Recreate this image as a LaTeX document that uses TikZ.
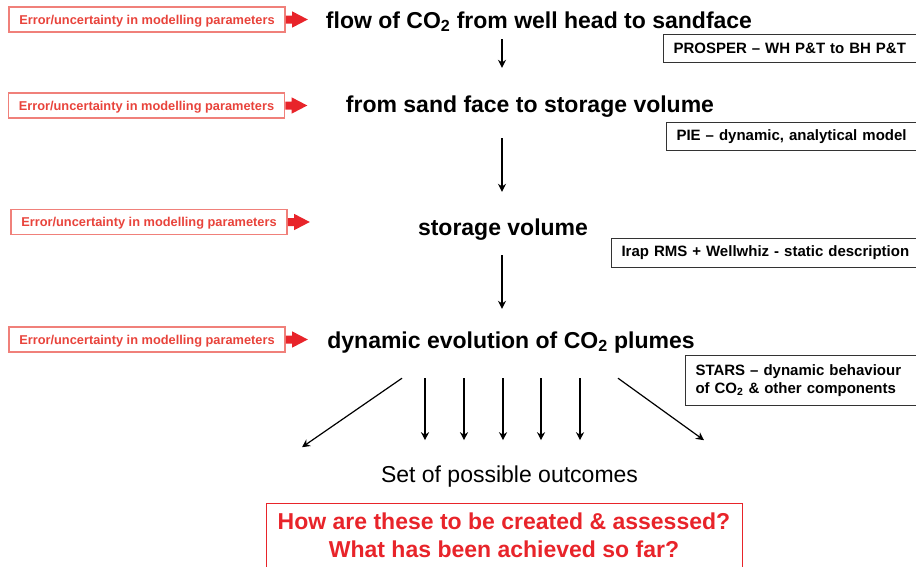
\documentclass[tikz,border=0pt]{standalone}
\usepackage{fontspec}
\setmainfont{Liberation Sans}
\usetikzlibrary{arrows.meta,positioning,shapes.arrows}
\definecolor{errred}{HTML}{E8433B}
\definecolor{errframe}{HTML}{F0807A}
\definecolor{arrowred}{HTML}{E8242A}
\definecolor{boxgray}{HTML}{333333}
\newcommand{\cotwo}{CO\textsubscript{2}}

\begin{document}
\begin{tikzpicture}[
  x=1pt, y=-1pt,
  >={Stealth[length=8pt,width=8pt]},
  errbox/.style={rectangle, draw=errframe, line width=1.2pt, minimum width=276pt, minimum height=25pt, inner sep=0pt, text height=9.2pt, text depth=0pt, text=errred, font=\fontsize{12.8}{15}\selectfont\bfseries},
  errarrow/.style={single arrow, fill=arrowred, draw=none, minimum height=22pt, minimum width=16pt, inner sep=3.8pt, single arrow head extend=4.2pt, single arrow head indent=0pt, single arrow tip angle=55},
  title/.style={anchor=base, inner sep=0pt, text height=17pt, text depth=5pt, font=\fontsize{23}{28}\selectfont\bfseries},
  tool/.style={rectangle, draw=boxgray, line width=1pt, fill=white, anchor=north west, align=left, text width=330pt, inner xsep=10pt, font=\fontsize{15}{18}\selectfont\bfseries},
  flow/.style={->, draw=black, line width=1.2pt}
]
  \useasboundingbox (0,0) rectangle (916,566);

  % model chain
  \node[title] (t1) at (539,28) {flow of \cotwo{} from well head to sandface};
  \node[title] (t2) at (530,112) {from sand face to storage volume};
  \node[title] (t3) at (503,235) {storage volume};
  \node[title] (t4) at (511,348) {dynamic evolution of \cotwo{} plumes};
  \coordinate (axis) at (502,0);

  \draw[flow, shorten <=6pt, shorten >=27pt] (t1.south -| axis) -- (t2.north -| axis);
  \draw[flow, shorten <=21pt, shorten >=26pt] (t2.south -| axis) -- (t3.north -| axis);
  \draw[flow, shorten <=15pt, shorten >=22pt] (t3.south -| axis) -- (t4.north -| axis);

  % error inputs
  \node[errbox] (e1) at (147,19.5) {Error/uncertainty in modelling parameters};
  \node[errbox] (e2) at (146.5,105.5) {Error/uncertainty in modelling parameters};
  \node[errbox] (e3) at (149,222) {Error/uncertainty in modelling parameters};
  \node[errbox] (e4) at (147,339.5) {Error/uncertainty in modelling parameters};
  \node[errarrow, right=0pt of e1] (a1) {};
  \node[errarrow, right=0pt of e2] (a2) {};
  \node[errarrow, right=0pt of e3] (a3) {};
  \node[errarrow, right=0pt of e4] (a4) {};

  % tools
  \node[tool, minimum height=28pt] (p1) at (663,34) {PROSPER -- WH P\&T to BH P\&T};
  \node[tool, minimum height=28pt] (p2) at (666,122) {PIE -- dynamic, analytical model};
  \node[tool, minimum height=29pt] (p3) at (611,238) {Irap RMS + Wellwhiz - static description};
  \node[tool, minimum height=50pt] (p4) at (685,355) {STARS -- dynamic behaviour\\of \cotwo{} \& other components};

  % outcomes
  \node[anchor=base, inner sep=0pt, font=\fontsize{23}{28}\selectfont] (out) at (509.5,482) {Set of possible outcomes};
  \foreach \x in {425,464,503,541,580}
    \draw[flow] (t4.south -| \x,0) ++(0,25) -- ++(0,62);
  \draw[flow] (t4.south -| 402,0) ++(0,25) -- ++(-100,69);
  \draw[flow] (t4.south -| 618,0) ++(0,25) -- ++(86,62);

  \node[draw=arrowred, line width=1pt, anchor=north, align=center, minimum width=476pt, inner ysep=9pt, text depth=45pt, text=arrowred, font=\fontsize{23}{28}\selectfont\bfseries] (q) at (504,503) {How are these to be created \& assessed?\\What has been achieved so far?};
\end{tikzpicture}
\end{document}
